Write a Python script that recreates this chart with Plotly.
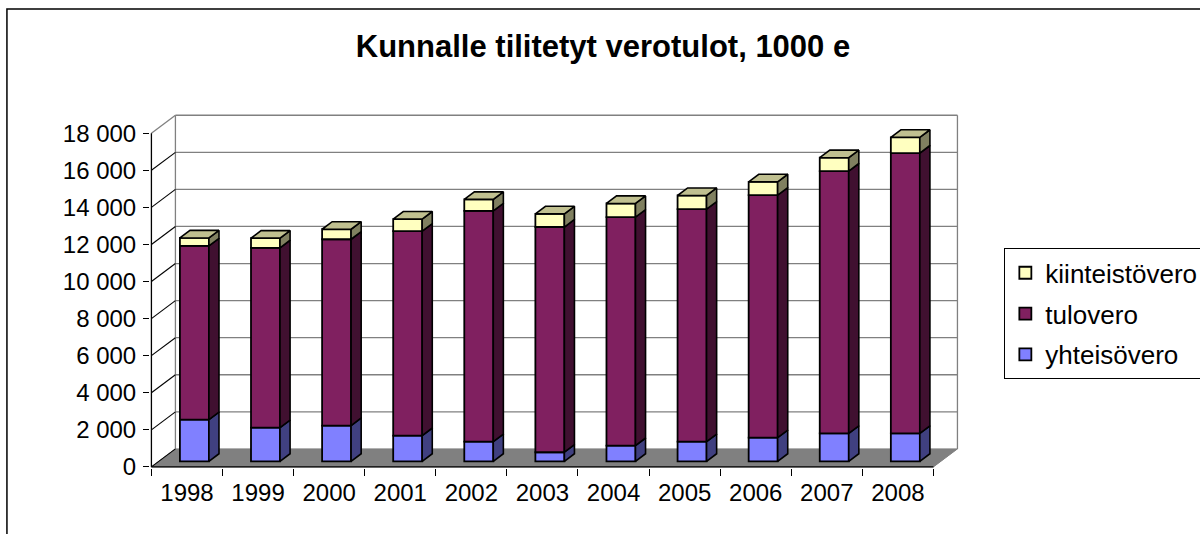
import plotly.graph_objects as go

# ---------------- data ----------------
years = ["1998", "1999", "2000", "2001", "2002", "2003", "2004", "2005", "2006", "2007", "2008"]
yhteisovero = [2250, 1820, 1930, 1390, 1060, 490, 850, 1060, 1280, 1510, 1510]
tulovero = [9370, 9700, 10050, 11030, 12450, 12150, 12320, 12540, 13080, 14150, 15120]
kiinteistovero = [430, 520, 540, 650, 620, 710, 740, 740, 720, 720, 850]
series_names = ["yhteisövero", "tulovero", "kiinteistövero"]
y_tick_values = [0, 2000, 4000, 6000, 8000, 10000, 12000, 14000, 16000, 18000]
y_tick_labels = ["0", "2 000", "4 000", "6 000", "8 000", "10 000", "12 000", "14 000", "16 000", "18 000"]
title_text = "Kunnalle tilitetyt verotulot, 1000 e"

# ---------------- geometry / style ----------------
FONT = "Arial, Liberation Sans, sans-serif"
PX_CAT = 71.1          # pixels per category
PX_K = 18.55           # pixels per 1000 units
DX = 24 / PX_CAT       # depth offset in category units
DY = 18 / PX_K * 1000  # depth offset in value units
F0, F1 = 0.31, 0.73    # bar front / back depth fractions
BAR_W = 29 / PX_CAT
X0, X1 = -0.52, 11.0
Y0, Y1 = -60, 19200
W, H = 1200, 534
L = 151 - (-(0.5) - X0) * PX_CAT
PW = (X1 - X0) * PX_CAT
B = 466.7 + (-Y0) / 1000 * PX_K
PH = (Y1 - Y0) / 1000 * PX_K
T = B - PH

front_cols = ["#8080FF", "#802060", "#FFFFC0"]
side_cols = ["#404080", "#401030", "#808060"]
top_col = "#C0C090"
grid_col = "#808080"
legend_ranks = [3, 2, 1]

n = len(years)
xpos = list(range(n))
series = [yhteisovero, tulovero, kiinteistovero]
base0 = F0 * DY

fig = go.Figure()

# front faces (real bars)
cum = [base0] * n
bases = []
for k, vals in enumerate(series):
    bases.append(list(cum))
    fig.add_trace(go.Bar(
        x=[i + F0 * DX for i in xpos], y=vals, base=list(cum), width=BAR_W,
        name=series_names[k], legendgroup=series_names[k], legendrank=legend_ranks[k],
        marker=dict(color=front_cols[k], line=dict(color="black", width=1.8)),
        hovertext=years, hoverinfo="text+y+name",
    ))
    cum = [c + v for c, v in zip(cum, vals)]

# side faces and top face
ddx = (F1 - F0) * DX
ddy = (F1 - F0) * DY
for k, vals in enumerate(series):
    xs, ys = [], []
    for i in xpos:
        xr = i + F0 * DX + BAR_W / 2
        yb = bases[k][i]
        yt = yb + vals[i]
        xs += [xr, xr, xr + ddx, xr + ddx, xr, None]
        ys += [yb, yt, yt + ddy, yb + ddy, yb, None]
    fig.add_trace(go.Scatter(x=xs, y=ys, mode="lines", fill="toself",
                             fillcolor=side_cols[k], line=dict(color="black", width=1.6),
                             showlegend=False, hoverinfo="skip"))
xs, ys = [], []
for i in xpos:
    xl = i + F0 * DX - BAR_W / 2
    xr = xl + BAR_W
    yt = cum[i]
    xs += [xl, xr, xr + ddx, xl + ddx, xl, None]
    ys += [yt, yt, yt + ddy, yt + ddy, yt, None]
fig.add_trace(go.Scatter(x=xs, y=ys, mode="lines", fill="toself",
                         fillcolor=top_col, line=dict(color="black", width=1.6),
                         showlegend=False, hoverinfo="skip"))

# ---------------- walls, floor, axes (shapes) ----------------
shapes = []
xa, xb = -0.5, n - 0.5
ymax = y_tick_values[-1]
for v in y_tick_values[1:]:
    shapes.append(dict(type="line", xref="x", yref="y", x0=xa + DX, x1=xb + DX, y0=v + DY, y1=v + DY,
                       line=dict(color=grid_col, width=1.3), layer="below"))
for xv in (xa + DX, xb + DX):
    shapes.append(dict(type="line", xref="x", yref="y", x0=xv, x1=xv, y0=DY, y1=ymax + DY,
                       line=dict(color=grid_col, width=1.3), layer="below"))
shapes.append(dict(type="path", xref="x", yref="y",
                   path=f"M{xa},0 L{xb},0 L{xb + DX},{DY} L{xa + DX},{DY} Z",
                   fillcolor="#808080", line=dict(color="#808080", width=1), layer="below"))
for v in y_tick_values:
    col = grid_col if v == ymax else "black"
    shapes.append(dict(type="line", xref="x", yref="y", x0=xa, x1=xa + DX, y0=v, y1=v + DY,
                       line=dict(color=col, width=1.1 if v != ymax else 1.3), layer="below"))
shapes.append(dict(type="line", xref="x", yref="y", x0=xa, x1=xa, y0=0, y1=ymax,
                   line=dict(color="black", width=1.3), layer="below"))
shapes.append(dict(type="line", xref="x", yref="y", x0=xa, x1=xb, y0=0, y1=0,
                   line=dict(color="black", width=1.3), layer="below"))


def px2paper_x(px):
    return (px - L) / PW


def px2paper_y(py):
    return (B - py) / PH


shapes.append(dict(type="rect", xref="paper", yref="paper",
                   x0=px2paper_x(6.5), x1=px2paper_x(1215), y0=px2paper_y(545), y1=px2paper_y(8.5),
                   line=dict(color="black", width=1.5), fillcolor="rgba(0,0,0,0)", layer="below"))

fig.update_layout(
    width=W, height=H,
    margin=dict(l=L, r=W - L - PW, t=T, b=H - B, pad=0, autoexpand=False),
    paper_bgcolor="white", plot_bgcolor="white",
    barmode="overlay",
    shapes=shapes,
    font=dict(family=FONT, color="black"),
    title=dict(text=title_text, x=603 / W, xref="container", xanchor="center",
               y=1 - 46 / H, yref="container", yanchor="middle",
               font=dict(family=FONT, size=31, weight=700, color="black")),
    xaxis=dict(range=[X0, X1], tickvals=xpos, ticktext=years, ticks="",
               showgrid=False, zeroline=False, showline=False, ticklabelstandoff=8,
               tickfont=dict(size=24, family=FONT, color="black"),
               minor=dict(tickvals=[i - 0.5 for i in range(n + 1)], ticks="outside",
                          ticklen=7, tickcolor="black", tickwidth=1.2, showgrid=False)),
    yaxis=dict(range=[Y0, Y1], tickvals=y_tick_values, ticktext=y_tick_labels,
               ticks="outside", ticklen=6, tickcolor="black", tickwidth=1.2,
               showgrid=False, zeroline=False, showline=False, ticklabelstandoff=2,
               tickfont=dict(size=24, family=FONT, color="black")),
    legend=dict(x=px2paper_x(1004), y=px2paper_y(248), xanchor="left", yanchor="top",
                traceorder="grouped", tracegroupgap=4,
                bgcolor="white", bordercolor="black", borderwidth=1,
                font=dict(size=26, family=FONT, color="black")),
    hovermode="closest",
)

fig.write_html("out.html", config={"displayModeBar": False},
               post_script="document.body.style.margin='0';")
